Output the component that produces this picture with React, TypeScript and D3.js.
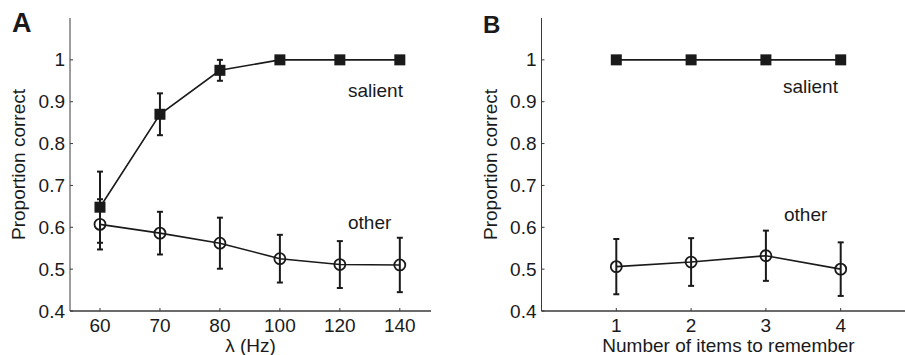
import React from "react";
import * as d3 from "d3";

const lambdaLabels = ["60", "70", "80", "100", "120", "140"];
const salientA = [0.648, 0.87, 0.975, 1.0, 1.0, 1.0];
const salientAErr = [0.085, 0.05, 0.025, 0, 0, 0];
const otherA = [0.607, 0.586, 0.562, 0.525, 0.511, 0.51];
const otherAErr = [0.06, 0.051, 0.061, 0.057, 0.056, 0.065];

const itemLabels = ["1", "2", "3", "4"];
const salientB = [1.0, 1.0, 1.0, 1.0];
const otherB = [0.506, 0.517, 0.532, 0.5];
const otherBErr = [0.066, 0.057, 0.06, 0.064];

const yTicks = [0.4, 0.5, 0.6, 0.7, 0.8, 0.9, 1];

const INK = "#1a1a1a";
const AXIS = "#3a3a3a";
const FONT = "'Liberation Sans', Arial, Helvetica, sans-serif";

type PanelProps = {
  letter: string;
  letterSize: number;
  letterX: number;
  letterY: number;
  x0: number;
  x1: number;
  xDomain: [number, number];
  xPos: number[];
  xLabels: string[];
  xTitle: string;
  salient: number[];
  salientErr: number[] | null;
  other: number[];
  otherErr: number[];
  salientLabel: [number, number];
  otherLabel: [number, number];
  yTitleX: number;
};

function Panel(p: PanelProps) {
  const y = d3.scaleLinear().domain([0.4, 1.1]).range([311, 18]);
  const x = d3.scaleLinear().domain(p.xDomain).range([p.x0, p.x1]);
  const line = d3
    .line<number>()
    .x((_, i) => x(p.xPos[i]))
    .y((d) => y(d));
  const cap = 3;
  const errBars = (vals: number[], errs: number[], key: string) =>
    vals.map((v, i) =>
      errs[i] > 0 ? (
        <g key={key + i} stroke={INK} strokeWidth={2}>
          <line x1={x(p.xPos[i])} x2={x(p.xPos[i])} y1={y(v - errs[i])} y2={y(v + errs[i])} />
          <line x1={x(p.xPos[i]) - cap} x2={x(p.xPos[i]) + cap} y1={y(v - errs[i])} y2={y(v - errs[i])} />
          <line x1={x(p.xPos[i]) - cap} x2={x(p.xPos[i]) + cap} y1={y(v + errs[i])} y2={y(v + errs[i])} />
        </g>
      ) : null
    );
  const midY = (y(0.4) + y(1.1)) / 2;
  return (
    <g fontFamily={FONT} fill={INK}>
      <text x={p.letterX} y={p.letterY} fontSize={p.letterSize} fontWeight="bold">
        {p.letter}
      </text>
      <line x1={p.x0} x2={p.x0} y1={y(1.1)} y2={y(0.4)} stroke={AXIS} strokeWidth={1} />
      <line x1={p.x0} x2={p.x1} y1={y(0.4)} y2={y(0.4)} stroke={AXIS} strokeWidth={1.5} />
      {yTicks.map((t) => (
        <g key={"yt" + t}>
          <line x1={p.x0} x2={p.x0 + 3} y1={y(t)} y2={y(t)} stroke={AXIS} strokeWidth={1} />
          <text x={p.x0 - 5} y={y(t) + 6.5} fontSize={19} textAnchor="end">
            {String(t)}
          </text>
        </g>
      ))}
      {p.xPos.map((v, i) => (
        <g key={"xt" + i}>
          <line x1={x(v)} x2={x(v)} y1={y(0.4)} y2={y(0.4) - 3} stroke={AXIS} strokeWidth={1} />
          <text x={x(v)} y={332} fontSize={19} textAnchor="middle">
            {p.xLabels[i]}
          </text>
        </g>
      ))}
      <text x={(p.x0 + p.x1) / 2} y={352} fontSize={19} textAnchor="middle">
        {p.xTitle}
      </text>
      <text
        transform={`translate(${p.yTitleX},${midY}) rotate(-90)`}
        fontSize={19}
        textAnchor="middle"
      >
        Proportion correct
      </text>
      {errBars(p.other, p.otherErr, "oe")}
      <path d={line(p.other) || ""} fill="none" stroke={INK} strokeWidth={1.6} />
      {p.other.map((v, i) => (
        <circle key={"oc" + i} cx={x(p.xPos[i])} cy={y(v)} r={5.5} fill="none" stroke={INK} strokeWidth={1.8} />
      ))}
      {p.salientErr ? errBars(p.salient, p.salientErr, "se") : null}
      <path d={line(p.salient) || ""} fill="none" stroke={INK} strokeWidth={1.6} />
      {p.salient.map((v, i) => (
        <rect key={"sr" + i} x={x(p.xPos[i]) - 5.5} y={y(v) - 5.5} width={11} height={11} fill={INK} />
      ))}
      <text x={p.salientLabel[0]} y={p.salientLabel[1]} fontSize={19}>
        salient
      </text>
      <text x={p.otherLabel[0]} y={p.otherLabel[1]} fontSize={19}>
        other
      </text>
    </g>
  );
}

export default function App() {
  return (
    <svg
      width={905}
      height={355}
      style={{ position: "absolute", left: 0, top: 0, background: "#fff" }}
    >
      <rect width={905} height={355} fill="#fff" />
      <Panel
        letter="A"
        letterSize={27}
        letterX={12}
        letterY={32}
        x0={70}
        x1={431}
        xDomain={[-0.5, 5.52]}
        xPos={lambdaLabels.map((_, i) => i)}
        xLabels={lambdaLabels}
        xTitle="λ (Hz)"
        salient={salientA}
        salientErr={salientAErr}
        other={otherA}
        otherErr={otherAErr}
        salientLabel={[348, 96.5]}
        otherLabel={[348, 229]}
        yTitleX={25}
      />
      <Panel
        letter="B"
        letterSize={24}
        letterX={483}
        letterY={33}
        x0={541.5}
        x1={915.5}
        xDomain={[0, 5]}
        xPos={itemLabels.map((_, i) => i + 1)}
        xLabels={itemLabels}
        xTitle="Number of items to remember"
        salient={salientB}
        salientErr={null}
        other={otherB}
        otherErr={otherBErr}
        salientLabel={[783, 93]}
        otherLabel={[784, 221]}
        yTitleX={497}
      />
    </svg>
  );
}
